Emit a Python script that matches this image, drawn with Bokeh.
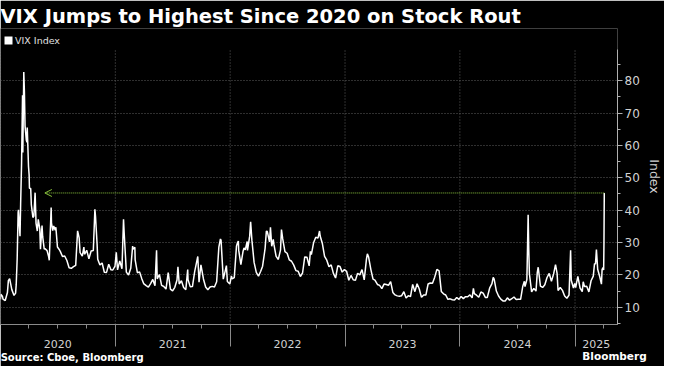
import pandas as pd
from bokeh.plotting import figure
from bokeh.models import (Range1d, FixedTicker, CustomJSTickFormatter, Arrow, DatetimeAxis,
                          OpenHead, Legend, LegendItem, ColumnDataSource)
from bokeh.embed import file_html
from bokeh.resources import INLINE

# ---------------- data (VIX daily closes, sampled) ----------------
dates_2020 = ["2020-01-02", "2020-01-03", "2020-01-08", "2020-01-10", "2020-01-17", "2020-01-24", "2020-01-27",
              "2020-01-31", "2020-02-07", "2020-02-14", "2020-02-19", "2020-02-21", "2020-02-24", "2020-02-27",
              "2020-02-28", "2020-03-04", "2020-03-06", "2020-03-09", "2020-03-12", "2020-03-13", "2020-03-16",
              "2020-03-18", "2020-03-20", "2020-03-24", "2020-03-26", "2020-03-27", "2020-03-31", "2020-04-02",
              "2020-04-03", "2020-04-07", "2020-04-09", "2020-04-14", "2020-04-17", "2020-04-21", "2020-04-24",
              "2020-04-28", "2020-05-01", "2020-05-06", "2020-05-08", "2020-05-13", "2020-05-15", "2020-05-20",
              "2020-05-22", "2020-05-29", "2020-06-03", "2020-06-05", "2020-06-11", "2020-06-12", "2020-06-16",
              "2020-06-19", "2020-06-24", "2020-06-26", "2020-07-01", "2020-07-06", "2020-07-10", "2020-07-17",
              "2020-07-24", "2020-07-31", "2020-08-07", "2020-08-14", "2020-08-21", "2020-08-28", "2020-09-03",
              "2020-09-08", "2020-09-11", "2020-09-18", "2020-09-23", "2020-09-25", "2020-10-02", "2020-10-09",
              "2020-10-16", "2020-10-23", "2020-10-28", "2020-10-30", "2020-11-04", "2020-11-06", "2020-11-13",
              "2020-11-20", "2020-11-27", "2020-12-04", "2020-12-11", "2020-12-18", "2020-12-24", "2020-12-31"]
vix_2020 = [12.47, 14.02, 13.45, 12.56, 12.10, 14.56, 18.23,
            18.84, 15.47, 13.68, 14.38, 17.08, 25.03, 39.16,
            40.11, 31.99, 41.94, 54.46, 75.47, 57.83, 82.69,
            76.45, 66.04, 61.67, 61.00, 65.54, 53.54, 50.91,
            46.80, 46.70, 41.67, 37.76, 38.15, 45.41, 35.93,
            33.57, 37.19, 34.12, 27.98, 35.28, 31.89, 27.99,
            28.16, 27.51, 25.66, 24.52, 40.79, 36.09, 33.67,
            35.12, 33.84, 34.73, 28.62, 27.94, 27.29, 25.68,
            25.84, 24.46, 22.21, 22.05, 22.54, 22.96, 33.60,
            31.46, 26.87, 25.83, 28.58, 26.38, 27.63, 25.00,
            27.41, 27.55, 40.28, 38.02, 29.57, 24.86, 23.10,
            23.70, 20.84, 20.79, 23.31, 21.57, 21.53, 22.75]

dates_2021 = ["2021-01-04", "2021-01-08", "2021-01-15", "2021-01-22", "2021-01-27", "2021-01-29", "2021-02-05",
              "2021-02-12", "2021-02-19", "2021-02-25", "2021-02-26", "2021-03-04", "2021-03-05", "2021-03-12",
              "2021-03-19", "2021-03-26", "2021-04-01", "2021-04-09", "2021-04-16", "2021-04-23", "2021-04-30",
              "2021-05-07", "2021-05-12", "2021-05-14", "2021-05-21", "2021-05-28", "2021-06-04", "2021-06-11",
              "2021-06-18", "2021-06-25", "2021-07-02", "2021-07-09", "2021-07-16", "2021-07-19", "2021-07-23",
              "2021-07-30", "2021-08-06", "2021-08-13", "2021-08-19", "2021-08-20", "2021-08-27", "2021-09-03",
              "2021-09-10", "2021-09-20", "2021-09-24", "2021-09-30", "2021-10-08", "2021-10-15", "2021-10-22",
              "2021-10-29", "2021-11-05", "2021-11-12", "2021-11-19", "2021-11-26", "2021-12-01", "2021-12-03",
              "2021-12-10", "2021-12-17", "2021-12-20", "2021-12-23", "2021-12-31"]
vix_2021 = [26.97, 21.56, 24.34, 21.91, 37.21, 33.09, 20.87,
            19.97, 22.05, 28.89, 27.95, 28.57, 24.66, 20.69,
            20.95, 18.86, 17.33, 16.69, 16.25, 17.33, 18.61,
            16.69, 27.59, 18.81, 20.15, 16.76, 16.42, 15.65,
            20.70, 15.62, 15.07, 16.18, 18.45, 22.50, 17.20,
            18.24, 16.15, 15.45, 21.67, 18.56, 16.39, 16.41,
            20.95, 25.71, 17.75, 23.14, 18.77, 16.30, 15.43,
            16.26, 16.48, 16.29, 17.91, 28.62, 31.12, 30.67,
            18.69, 21.57, 22.87, 17.96, 17.22]

dates_2022 = ["2022-01-05", "2022-01-07", "2022-01-14", "2022-01-21", "2022-01-24", "2022-01-27", "2022-01-28",
              "2022-02-04", "2022-02-11", "2022-02-14", "2022-02-18", "2022-02-24", "2022-02-25", "2022-03-04",
              "2022-03-07", "2022-03-11", "2022-03-18", "2022-03-25", "2022-04-01", "2022-04-08", "2022-04-14",
              "2022-04-22", "2022-04-26", "2022-04-29", "2022-05-06", "2022-05-09", "2022-05-13", "2022-05-18",
              "2022-05-20", "2022-05-27", "2022-06-03", "2022-06-10", "2022-06-13", "2022-06-17", "2022-06-24",
              "2022-07-01", "2022-07-08", "2022-07-15", "2022-07-22", "2022-07-29", "2022-08-05", "2022-08-12",
              "2022-08-19", "2022-08-26", "2022-09-02", "2022-09-09", "2022-09-13", "2022-09-16", "2022-09-23",
              "2022-09-30", "2022-10-07", "2022-10-12", "2022-10-14", "2022-10-21", "2022-10-28", "2022-11-04",
              "2022-11-11", "2022-11-18", "2022-11-25", "2022-12-02", "2022-12-09", "2022-12-16", "2022-12-23",
              "2022-12-30"]
vix_2022 = [19.73, 18.76, 19.19, 28.85, 29.90, 30.49, 27.66,
            23.22, 27.36, 28.33, 27.75, 30.32, 27.59, 31.98,
            36.45, 30.75, 23.87, 20.81, 19.63, 21.16, 22.70,
            28.21, 33.52, 33.40, 30.19, 34.75, 28.87, 30.96,
            29.43, 25.72, 24.79, 27.75, 34.02, 31.13, 27.23,
            26.70, 24.64, 24.23, 23.03, 21.33, 21.15, 19.53,
            20.60, 25.56, 25.47, 22.79, 27.27, 26.30, 29.92,
            31.62, 31.36, 33.57, 32.02, 29.69, 25.75, 24.55,
            22.52, 23.12, 20.50, 19.06, 22.83, 22.62, 20.87,
            21.67]

dates_2023 = ["2023-01-06", "2023-01-13", "2023-01-20", "2023-01-27", "2023-02-03", "2023-02-10", "2023-02-17",
              "2023-02-24", "2023-03-03", "2023-03-10", "2023-03-13", "2023-03-17", "2023-03-24", "2023-03-31",
              "2023-04-06", "2023-04-14", "2023-04-21", "2023-04-28", "2023-05-05", "2023-05-12", "2023-05-19",
              "2023-05-26", "2023-06-02", "2023-06-09", "2023-06-16", "2023-06-23", "2023-06-30", "2023-07-07",
              "2023-07-14", "2023-07-21", "2023-07-28", "2023-08-04", "2023-08-11", "2023-08-18", "2023-08-25",
              "2023-09-01", "2023-09-08", "2023-09-15", "2023-09-22", "2023-09-29", "2023-10-06", "2023-10-13",
              "2023-10-20", "2023-10-27", "2023-11-03", "2023-11-10", "2023-11-17", "2023-11-24", "2023-12-01",
              "2023-12-08", "2023-12-15", "2023-12-22", "2023-12-29"]
vix_2023 = [21.13, 18.35, 19.85, 18.51, 18.33, 20.53, 20.02,
            21.67, 18.49, 24.80, 26.52, 25.51, 21.74, 18.70,
            18.40, 17.07, 16.77, 15.78, 17.19, 17.03, 16.81,
            17.95, 14.60, 13.83, 13.54, 13.44, 13.59, 14.83,
            12.91, 13.60, 13.33, 17.10, 14.84, 17.30, 15.68,
            13.09, 13.80, 13.79, 17.20, 17.52, 17.45, 19.32,
            21.71, 21.27, 14.91, 14.17, 13.80, 12.46, 12.63,
            12.35, 12.28, 13.03, 12.45]

dates_2024 = ["2024-01-05", "2024-01-12", "2024-01-19", "2024-01-26", "2024-02-02", "2024-02-09", "2024-02-13",
              "2024-02-16", "2024-02-23", "2024-03-01", "2024-03-08", "2024-03-15", "2024-03-22", "2024-03-28",
              "2024-04-05", "2024-04-12", "2024-04-16", "2024-04-19", "2024-04-26", "2024-05-03", "2024-05-10",
              "2024-05-17", "2024-05-24", "2024-05-31", "2024-06-07", "2024-06-14", "2024-06-21", "2024-06-28",
              "2024-07-05", "2024-07-12", "2024-07-19", "2024-07-24", "2024-07-26", "2024-08-01", "2024-08-02",
              "2024-08-05", "2024-08-07", "2024-08-09", "2024-08-16", "2024-08-23", "2024-08-30", "2024-09-03",
              "2024-09-06", "2024-09-13", "2024-09-20", "2024-09-27", "2024-10-04", "2024-10-11", "2024-10-18",
              "2024-10-25", "2024-10-31", "2024-11-05", "2024-11-08", "2024-11-15", "2024-11-22", "2024-11-29",
              "2024-12-06", "2024-12-13", "2024-12-18", "2024-12-20", "2024-12-27", "2024-12-31"]
vix_2024 = [13.35, 12.70, 13.30, 13.26, 13.85, 12.93, 15.85,
            14.24, 13.75, 13.11, 14.74, 14.41, 13.06, 13.01,
            16.03, 17.31, 19.23, 18.71, 15.03, 13.49, 12.55,
            11.99, 11.93, 12.92, 12.22, 12.66, 13.20, 12.44,
            12.48, 12.46, 16.52, 18.04, 16.39, 18.59, 23.39,
            38.57, 27.85, 20.37, 14.80, 15.86, 15.00, 20.72,
            22.38, 16.56, 16.15, 16.96, 19.21, 20.46, 18.03,
            20.33, 23.16, 20.49, 15.20, 16.14, 15.24, 13.51,
            12.77, 13.81, 27.62, 18.36, 15.95, 17.35]

dates_2025 = ["2025-01-03", "2025-01-10", "2025-01-17", "2025-01-24", "2025-01-27", "2025-01-31", "2025-02-07",
              "2025-02-14", "2025-02-21", "2025-02-28", "2025-03-04", "2025-03-07", "2025-03-10", "2025-03-14",
              "2025-03-21", "2025-03-26", "2025-03-28", "2025-03-31", "2025-04-02", "2025-04-03", "2025-04-04"]
vix_2025 = [16.13, 19.54, 15.97, 14.85, 17.90, 16.43, 16.54,
            14.77, 18.21, 19.63, 23.51, 23.37, 27.86, 21.77,
            19.28, 17.15, 21.65, 22.28, 21.51, 30.02, 45.31]

years = [2020, 2021, 2022, 2023, 2024, 2025]
y_ticks = [10, 20, 30, 40, 50, 60, 70, 80]
arrow_from_date = "2025-04-04"
arrow_to_date = "2020-05-22"
arrow_level = 45.31
x_start, x_end = "2020-01-02", "2025-05-16"
y_start, y_axis_top, y_end = 4.7, 89.6, 96.1

title_text = "VIX Jumps to Highest Since 2020 on Stock Rout"
series_name = "VIX Index"
source_text = "Source: Cboe, Bloomberg"
brand_text = "Bloomberg"
axis_title = "Index"

# ---------------- layout constants ----------------
W, H = 664, 366
TOP, BOTTOM, RIGHT = 28, 42, 44
FW, FH = W - RIGHT, H - TOP - BOTTOM
SOURCE_CX, BRAND_CX = 72, 617          # horizontal centres (px) of the footer texts
FONT = "DejaVu Sans"
GREEN = "#8cc63e"
AXIS_C = "#8a8a8a"
GRID_C = "#5e5e5e"
TXT_C = "#d2d2d2"

# ---------------- build ----------------
def ms(d):
    return pd.Timestamp(d).value / 1e6

dates = pd.to_datetime(dates_2020 + dates_2021 + dates_2022 + dates_2023 + dates_2024 + dates_2025)
vix = vix_2020 + vix_2021 + vix_2022 + vix_2023 + vix_2024 + vix_2025
src = ColumnDataSource(dict(date=dates, vix=vix))

x0_ms, x1_ms = ms(x_start), ms(x_end)
px_to_ms = lambda px: x0_ms + (px / FW) * (x1_ms - x0_ms)
year_ms = [ms(f"{y}-01-01") for y in years]
quarter_ms = [ms(f"{y}-{m:02d}-01") for y in years for m in (4, 7, 10) if ms(f"{y}-{m:02d}-01") < x1_ms]
label_ms = [(ms(f"{y}-01-01") + min(ms(f"{y + 1}-01-01"), x1_ms)) / 2 for y in years]

p = figure(width=W, height=H, x_axis_type=None, y_axis_location="right",
           x_range=Range1d(x0_ms, x1_ms), y_range=Range1d(y_start, y_end),
           output_backend="svg", toolbar_location=None,
           background_fill_color="black", border_fill_color="black", outline_line_color=None,
           min_border_left=0, min_border_right=RIGHT, min_border_top=TOP, min_border_bottom=BOTTOM)

# title
p.title.text = title_text
p.title.align = "left"
p.title.text_font = FONT
p.title.text_font_style = "bold"
p.title.text_font_size = "19.5px"
p.title.text_color = "white"
p.title.offset = 0
p.title.standoff = 2

# horizontal grid
p.ygrid.ticker = FixedTicker(ticks=y_ticks)
p.ygrid.grid_line_color = GRID_C
p.ygrid.grid_line_dash = "1 2"

# vertical grid at year boundaries (stopping at the axis top)
p.segment(x0=year_ms, y0=[y_start] * len(year_ms), x1=year_ms, y1=[y_axis_top] * len(year_ms),
          line_color=GRID_C, line_dash="1 2", line_width=1)

def plain_axis(ticks, text_fn, standoff, size, color, style="normal"):
    ax = DatetimeAxis(ticker=FixedTicker(ticks=ticks, minor_ticks=[]), formatter=text_fn)
    ax.axis_line_color = None
    ax.major_tick_line_color = None
    ax.major_tick_in = 0
    ax.major_tick_out = 0
    ax.major_label_standoff = standoff
    ax.major_label_text_font = FONT
    ax.major_label_text_font_size = size
    ax.major_label_text_font_style = style
    ax.major_label_text_color = color
    return ax

# bottom axis A: axis line, long year ticks, quarter minor ticks
xa = DatetimeAxis(ticker=FixedTicker(ticks=year_ms, minor_ticks=quarter_ms),
                  formatter=CustomJSTickFormatter(code="return ''"))
xa.axis_line_color = AXIS_C
xa.major_tick_line_color = AXIS_C
xa.major_tick_in = 0
xa.major_tick_out = 22
xa.minor_tick_line_color = AXIS_C
xa.minor_tick_in = 0
xa.minor_tick_out = 4
xa.major_label_standoff = 0
xa.major_label_text_font_size = "1px"
p.add_layout(xa, "below")

# bottom axis B: year labels, centred on each year's visible span
p.add_layout(plain_axis(label_ms,
                        CustomJSTickFormatter(code="return String(new Date(tick).getUTCFullYear())"),
                        -7, "11px", TXT_C), "below")
# bottom axis C: source note
p.add_layout(plain_axis([px_to_ms(SOURCE_CX)],
                        CustomJSTickFormatter(args=dict(t=source_text), code="return t"),
                        1, "10px", "white", "bold"), "below")
# bottom axis D: brand, pulled up into the source row
p.add_layout(plain_axis([px_to_ms(BRAND_CX)],
                        CustomJSTickFormatter(args=dict(t=brand_text), code="return t"),
                        -16, "10.5px", "white", "bold"), "below")

# y axis (right)
ya = p.yaxis[0]
ya.bounds = (y_start, y_axis_top)
ya.ticker = FixedTicker(ticks=y_ticks, minor_ticks=[t - 5 for t in y_ticks] + [y_ticks[-1] + 5])
ya.axis_line_color = "#b0b0b0"
ya.major_tick_line_color = "#b0b0b0"
ya.minor_tick_line_color = "#b0b0b0"
ya.major_tick_in = 0
ya.major_tick_out = 5
ya.minor_tick_in = 0
ya.minor_tick_out = 3
ya.major_label_standoff = 2
ya.major_label_text_font = FONT
ya.major_label_text_font_size = "12px"
ya.major_label_text_color = TXT_C
ya.axis_label = axis_title
ya.axis_label_text_font = FONT
ya.axis_label_text_font_size = "12.5px"
ya.axis_label_text_font_style = "normal"
ya.axis_label_text_color = TXT_C
ya.axis_label_standoff = 4

# series
p.line(x="date", y="vix", source=src, line_color="white", line_width=1.5)

# arrow
p.add_layout(Arrow(end=OpenHead(size=7, line_color=GREEN, line_width=1),
                   x_start=ms(arrow_from_date), y_start=arrow_level,
                   x_end=ms(arrow_to_date), y_end=arrow_level,
                   line_color=GREEN, line_width=1, line_dash="1 1"))

# legend (top-left, above the plotted area); the square swatch is a legend-only proxy
nan = float("nan")
sq = p.quad(left=[nan], right=[nan], top=[nan], bottom=[nan], fill_color="white", line_color=None)
legend = Legend(items=[LegendItem(label=series_name, renderers=[sq])],
                location=(3, FH - 18), orientation="horizontal",
                padding=0, margin=0, spacing=0, glyph_width=10, glyph_height=10, label_height=12,
                label_standoff=2, label_text_font=FONT, label_text_font_size="9.5px",
                label_text_color="#e0e0e0", background_fill_alpha=0, border_line_alpha=0)
p.add_layout(legend)

open("out.html", "w").write(file_html(p, INLINE))
